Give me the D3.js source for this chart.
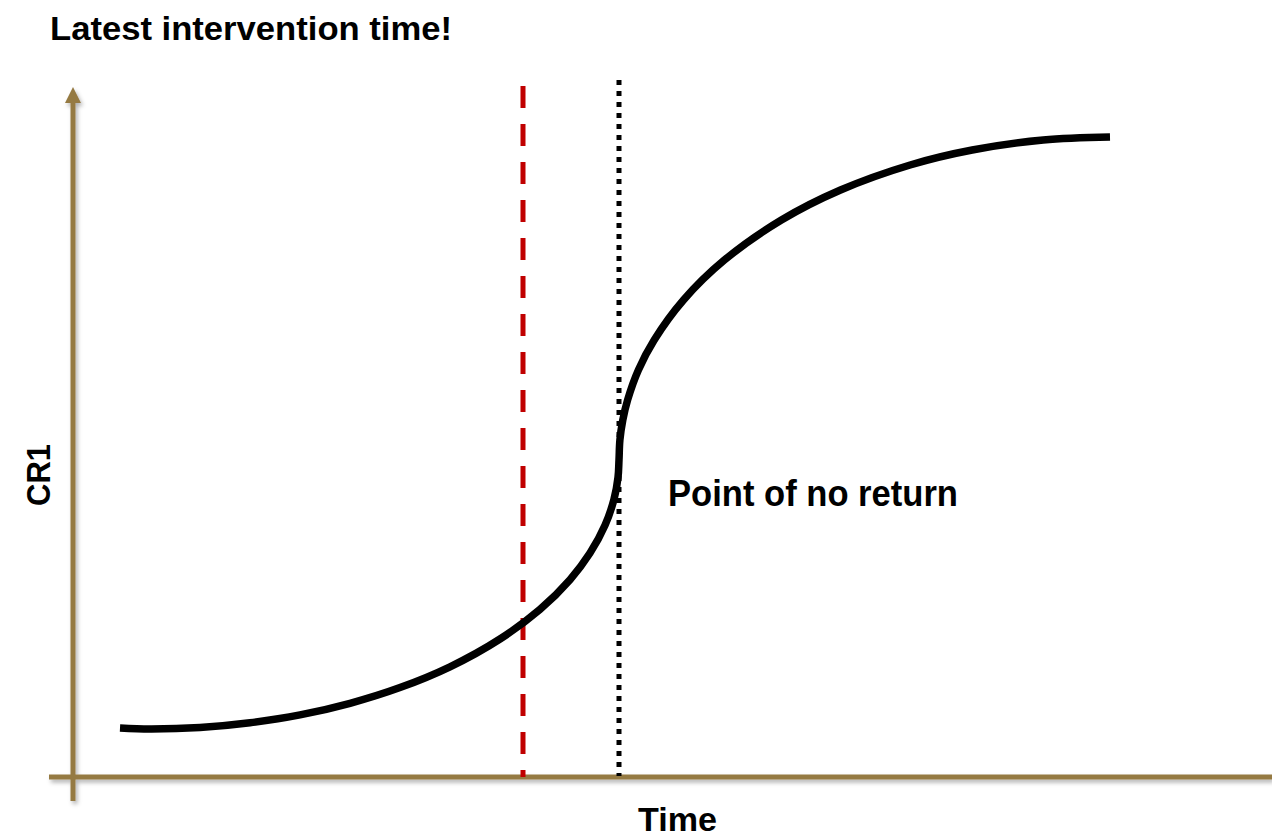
<!DOCTYPE html>
<html>
<head>
<meta charset="utf-8">
<script src="https://cdn.jsdelivr.net/npm/d3@7"></script>
<style>
  body { margin: 0; background: #fff; }
  text { font-family: "Liberation Sans", Arial, sans-serif; font-weight: bold; fill: #000; }
</style>
</head>
<body>
<div id="chart"></div>
<script>
// Curve data (arbitrary units: time 0-120, CR1 0-100)
var curveTime = [4.70, 7.70, 12.70, 17.70, 22.70, 27.70, 32.70, 37.70, 42.70, 46.70, 49.70, 51.70, 53.20, 54.10, 54.50, 54.60,
                 54.69, 54.98, 55.46, 56.54, 58.12, 61.05, 65.15, 70.84, 76.75, 83.71, 89.92, 97.02, 103.70];
var curveCR1  = [7.10, 6.96, 7.17, 7.86, 9.00, 10.68, 12.96, 15.97, 20.00, 24.29, 28.59, 32.45, 36.48, 40.25, 43.41, 45.94,
                 48.84, 51.74, 54.64, 58.99, 63.33, 69.13, 74.93, 80.72, 85.07, 88.70, 90.87, 92.32, 92.75];

var interventionTime = 45.0;   // red dashed line
var noReturnTime = 54.6;       // black dotted line

var titleText = 'Latest intervention time!';
var noReturnLabel = 'Point of no return';
var xLabel = 'Time';
var yLabel = 'CR1';

var width = 1272, height = 839;
var axisColor = '#957a43';

var xScale = d3.scaleLinear().domain([0, 120]).range([73, 1273]);
var yScale = d3.scaleLinear().domain([0, 100]).range([777, 87]);

var svg = d3.select('#chart').append('svg')
    .attr('width', width)
    .attr('height', height);

var defs = svg.append('defs');
var shadow = defs.append('filter').attr('id', 'shadow')
    .attr('x', '-10%').attr('y', '-10%').attr('width', '120%').attr('height', '120%');
shadow.append('feDropShadow')
    .attr('dx', 2).attr('dy', 3)
    .attr('stdDeviation', 2)
    .attr('flood-color', '#000')
    .attr('flood-opacity', 0.3);

// axes
var axes = svg.append('g').attr('filter', 'url(#shadow)');
axes.append('line')
    .attr('x1', xScale(0)).attr('x2', xScale(0))
    .attr('y1', 801).attr('y2', yScale(100) + 15)
    .style('stroke', axisColor).style('stroke-width', 5);
axes.append('path')
    .attr('d', 'M' + (xScale(0) - 8) + ',' + (yScale(100) + 16) +
               'L' + xScale(0) + ',' + yScale(100) +
               'L' + (xScale(0) + 8) + ',' + (yScale(100) + 16) + 'Z')
    .style('fill', axisColor);
axes.append('line')
    .attr('x1', 49).attr('x2', width)
    .attr('y1', yScale(0)).attr('y2', yScale(0))
    .style('stroke', axisColor).style('stroke-width', 5);

// vertical markers
svg.append('line')
    .attr('x1', xScale(interventionTime)).attr('x2', xScale(interventionTime))
    .attr('y1', 86).attr('y2', yScale(0))
    .style('stroke', '#c00000').style('stroke-width', 5)
    .style('stroke-dasharray', '22,16');

svg.append('line')
    .attr('x1', xScale(noReturnTime)).attr('x2', xScale(noReturnTime))
    .attr('y1', 80).attr('y2', yScale(0) - 1)
    .style('stroke', '#000').style('stroke-width', 5)
    .style('stroke-dasharray', '5,6');

// the S-curve
var pts = curveTime.map(function(t, i) { return [t, curveCR1[i]]; });
var line = d3.line()
    .x(function(d) { return xScale(d[0]); })
    .y(function(d) { return yScale(d[1]); })
    .curve(d3.curveCatmullRom.alpha(0.5));

svg.append('path')
    .datum(pts)
    .attr('d', line)
    .style('fill', 'none')
    .style('stroke', '#000')
    .style('stroke-width', 7.5);

// texts
svg.append('text')
    .attr('x', 50).attr('y', 40)
    .attr('textLength', 402).attr('lengthAdjust', 'spacingAndGlyphs')
    .style('font-size', '34px')
    .text(titleText);

svg.append('text')
    .attr('x', 668).attr('y', 506)
    .attr('textLength', 290).attr('lengthAdjust', 'spacingAndGlyphs')
    .style('font-size', '36px')
    .text(noReturnLabel);

svg.append('text')
    .attr('x', 638).attr('y', 831)
    .attr('textLength', 79).attr('lengthAdjust', 'spacingAndGlyphs')
    .style('font-size', '34px')
    .text(xLabel);

svg.append('text')
    .attr('transform', 'translate(50,475) rotate(-90)')
    .attr('text-anchor', 'middle')
    .attr('textLength', 62).attr('lengthAdjust', 'spacingAndGlyphs')
    .style('font-size', '34px')
    .text(yLabel);
</script>
</body>
</html>
